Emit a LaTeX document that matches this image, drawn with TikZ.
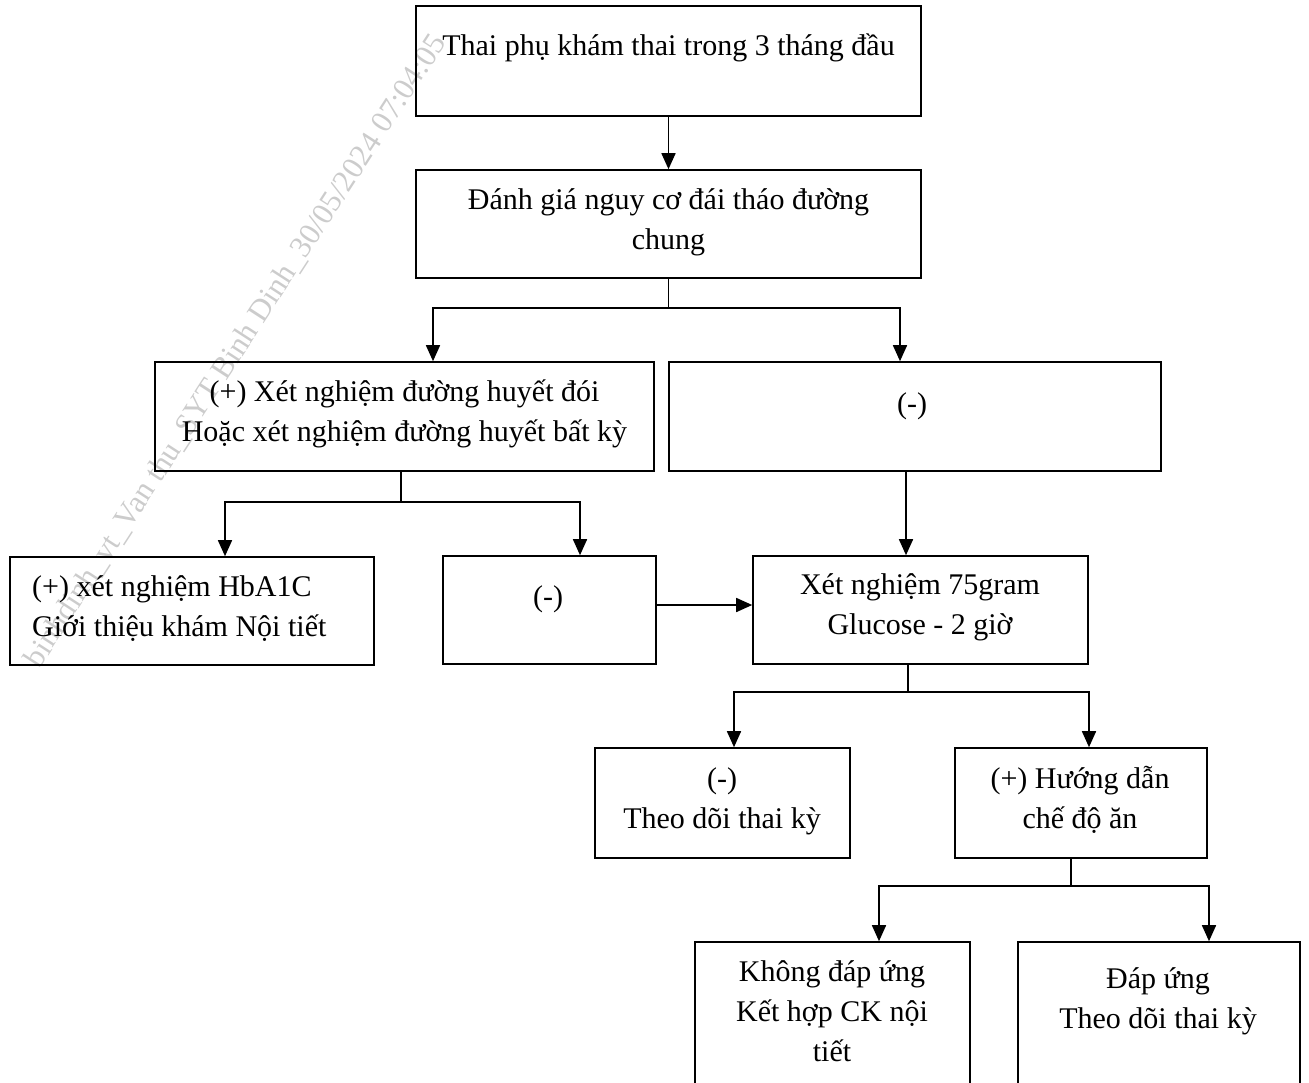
\documentclass[tikz,border=0pt]{standalone}
\usepackage{fontspec}
\setmainfont{Liberation Serif}
\usetikzlibrary{arrows.meta}
\begin{document}
\begin{tikzpicture}[x=1pt,y=-1pt,
  box/.style={draw,line width=1.6pt,inner sep=0pt},
  txt/.style={anchor=base,inner sep=0pt,font=\fontsize{30}{40}\selectfont},
  txtl/.style={txt,anchor=base west},
  wm/.style={inner sep=0pt,text=gray!40,font=\fontsize{31}{31}\selectfont},
  ln/.style={line width=1.6pt},
  arr/.style={line width=1.6pt,-{Triangle[width=14pt,length=16pt]}}]
\useasboundingbox (0,0) rectangle (1309,1082);
% watermark
\node[wm,rotate=57,anchor=base east] (wm) at (447,42) {binhdinh\_vt\_Van thu\_SYT Binh Dinh\_30/05/2024 07:04:05};
% boxes
\node[box,minimum width=505pt,minimum height=110pt] (b1) at (668.5,61) {};
\node[box,minimum width=505pt,minimum height=108pt] (b2) at (668.5,224) {};
\node[box,minimum width=499pt,minimum height=109pt] (b3) at (404.5,416.5) {};
\node[box,minimum width=492pt,minimum height=109pt] (b4) at (915,416.5) {};
\node[box,minimum width=364pt,minimum height=108pt] (b5) at (192,611) {};
\node[box,minimum width=213pt,minimum height=108pt] (b6) at (549.5,610) {};
\node[box,minimum width=335pt,minimum height=108pt] (b7) at (920.5,610) {};
\node[box,minimum width=255pt,minimum height=110pt] (b8) at (722.5,803) {};
\node[box,minimum width=252pt,minimum height=110pt] (b9) at (1081,803) {};
\node[box,minimum width=275pt,minimum height=153pt] (b10) at (832.5,1018.5) {};
\node[box,minimum width=282pt,minimum height=153pt] (b11) at (1159,1018.5) {};
% texts
\node[txt] (t1) at (668.5,55) {Thai phụ khám thai trong 3 tháng đầu};
\node[txt] (t2a) at (668.5,209) {Đánh giá nguy cơ đái tháo đường};
\node[txt] (t2b) at (668.5,249) {chung};
\node[txt] (t3a) at (404.5,401) {(+) Xét nghiệm đường huyết đói};
\node[txt] (t3b) at (404.5,441) {Hoặc xét nghiệm đường huyết bất kỳ};
\node[txt] (t4) at (912,413) {(-)};
\node[txtl] (t5a) at (32,596) {(+) xét nghiệm HbA1C};
\node[txtl] (t5b) at (32,636) {Giới thiệu khám Nội tiết};
\node[txt] (t6) at (548,606) {(-)};
\node[txt] (t7a) at (920,594) {Xét nghiệm 75gram};
\node[txt] (t7b) at (920,634) {Glucose - 2 giờ};
\node[txt] (t8a) at (722,788) {(-)};
\node[txt] (t8b) at (722,828) {Theo dõi thai kỳ};
\node[txt] (t9a) at (1080,788) {(+) Hướng dẫn};
\node[txt] (t9b) at (1080,828) {chế độ ăn};
\node[txt] (t10a) at (832,981) {Không đáp ứng};
\node[txt] (t10b) at (832,1021) {Kết hợp CK nội};
\node[txt] (t10c) at (832,1061) {tiết};
\node[txt] (t11a) at (1158,988) {Đáp ứng};
\node[txt] (t11b) at (1158,1028) {Theo dõi thai kỳ};
% junction coordinates
\coordinate (j1L) at (433,308);
\coordinate (j1R) at (900,308);
\coordinate (j2L) at (225,502);
\coordinate (j2R) at (580,502);
\coordinate (j3L) at (734,692);
\coordinate (j3R) at (1089,692);
\coordinate (j4L) at (879,886);
\coordinate (j4R) at (1209,886);
% connectors
\draw[arr] (b1.south) -- (b2.north);
\draw[arr] (b2.south) |- (j1L) -- (j1L |- b3.north);
\draw[arr] (b2.south) |- (j1R) -- (j1R |- b4.north);
\draw[arr] ([xshift=-3.5pt]b3.south) |- (j2L) -- (j2L |- b5.north);
\draw[arr] ([xshift=-3.5pt]b3.south) |- (j2R) -- (j2R |- b6.north);
\draw[arr] ([xshift=-9pt]b4.south) -- ([xshift=-9pt]b4.south |- b7.north);
\draw[arr] ([yshift=5pt]b6.east) -- ([yshift=5pt]b6.east -| b7.west);
\draw[arr] ([xshift=-12.5pt]b7.south) |- (j3L) -- (j3L |- b8.north);
\draw[arr] ([xshift=-12.5pt]b7.south) |- (j3R) -- (j3R |- b9.north);
\draw[arr] ([xshift=-10pt]b9.south) |- (j4L) -- (j4L |- b10.north);
\draw[arr] ([xshift=-10pt]b9.south) |- (j4R) -- (j4R |- b11.north);
\end{tikzpicture}
\end{document}
